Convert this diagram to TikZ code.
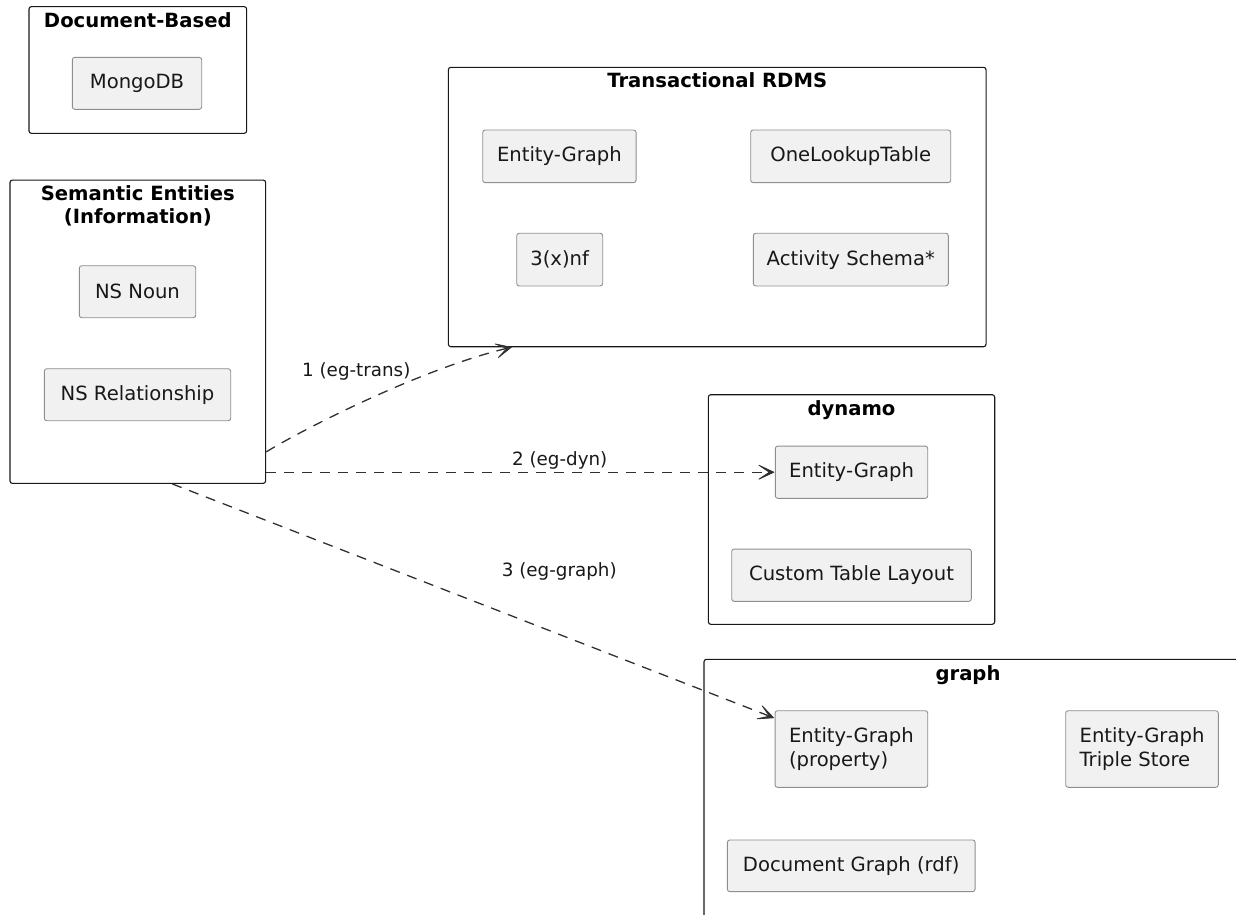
\documentclass[tikz,border=0pt]{standalone}
\usepackage{fontspec}
\setmainfont{DejaVu Sans}
\usetikzlibrary{calc}
\definecolor{itemfill}{HTML}{F1F1F1}
\definecolor{itemline}{HTML}{8E8E8E}
\definecolor{ink}{HTML}{181818}
\definecolor{wire}{HTML}{303030}
% open arrow head: #1 is the tip, #2 any point behind it on the line
\newcommand\openhead[2]{%
  \filldraw[wire, line width=0.8pt, line join=round]
    (#1) -- ($(#1)!15pt!(#2)!7pt!90:(#1)$) -- ($(#1)!4.5pt!(#2)$)
    -- ($(#1)!15pt!(#2)!7pt!-90:(#1)$) -- cycle;}
\begin{document}
\begin{tikzpicture}[x=1pt,y=-1pt,
  cluster/.style={draw=ink, line width=1.1pt, rounded corners=2.5pt, inner sep=0pt},
  ctitle/.style={font=\fontsize{19.6}{23}\selectfont\bfseries, anchor=base, inner sep=0pt, align=center, text=black},
  item/.style={draw=itemline, fill=itemfill, line width=0.9pt, rounded corners=2.5pt, inner sep=0pt,
    font=\fontsize{19.6}{24.6}\selectfont, text=ink},
  lbl/.style={font=\fontsize{18.3}{22}\selectfont, inner sep=0pt, anchor=base, text=ink},
  conn/.style={draw=wire, line width=1.3pt, dash pattern=on 10pt off 8pt, shorten >=4pt}]
\useasboundingbox (0,0) rectangle (1236,914);
\clip (0,0) rectangle (1236,914);

% Document-Based
\node[cluster, minimum width=217.7pt, minimum height=126.7pt] (docb) at (137.8,70) {};
\node[ctitle] (docb-t) at ($(docb.north)+(0,21)$) {Document-Based};
\node[item, minimum width=129.4pt, minimum height=52pt] (mongo) at (137,83.3) {MongoDB};

% Semantic Entities (two-line title: base sits on the last line)
\node[cluster, minimum width=255.7pt, minimum height=303.3pt] (sem) at (137.8,331.7) {};
\node[ctitle] (sem-t) at ($(sem.north)+(0,44)$) {Semantic Entities\\(Information)};
\node[item, minimum width=116.4pt, minimum height=52pt] (noun) at (137.5,291.7) {NS Noun};
\node[item, minimum width=186.4pt, minimum height=52pt] (rel) at (137.5,394.7) {NS Relationship};

% Transactional RDMS
\node[cluster, minimum width=537.7pt, minimum height=279.4pt] (trans) at (717.2,207) {};
\node[ctitle] (trans-t) at ($(trans.north)+(0,21)$) {Transactional RDMS};
\node[item, minimum width=153.3pt, minimum height=52.7pt] (teg) at (559.4,156.3) {Entity-Graph};
\node[item, minimum width=200pt, minimum height=52.7pt] (olt) at (850.7,156.3) {OneLookupTable};
\node[item, minimum width=86pt, minimum height=52.7pt] (nf) at (559.7,259.6) {3(x)nf};
\node[item, minimum width=195pt, minimum height=52.7pt] (act) at (850.8,259.6) {Activity Schema*};

% dynamo
\node[cluster, minimum width=286.4pt, minimum height=229.6pt] (dyn) at (851.5,509.5) {};
\node[ctitle] (dyn-t) at ($(dyn.north)+(0,21)$) {dynamo};
\node[item, minimum width=152.4pt, minimum height=52.3pt] (deg) at (851.5,472.2) {Entity-Graph};
\node[item, minimum width=239.6pt, minimum height=52.3pt] (ctl) at (851.5,575.2) {Custom Table Layout};

% graph (runs past the right and bottom edges)
\node[cluster, minimum width=546pt, minimum height=270pt] (graph) at (977,794.3) {};
\node[ctitle] (graph-t) at (968,680.3) {graph};
\node[item, minimum width=152.7pt, minimum height=76.6pt, align=left] (gprop) at (851.4,749) {Entity-Graph\\(property)};
\node[item, minimum width=152.6pt, minimum height=76.6pt, align=left] (gtri) at (1142,749) {Entity-Graph\\Triple Store};
\node[item, minimum width=247.7pt, minimum height=51.7pt] (gdoc) at (851.2,865.8) {Document Graph (rdf)};

% connectors: dashed body, then an open head at the end
\coordinate (s1) at ($(sem.south east)+(0,-32)$);
\coordinate (e1) at ($(trans.south west)+(63.5,0)$);
\coordinate (c1) at ($(e1)+(-92,22)$);
\draw[conn] (s1) .. controls ($(s1)+(34,-21)$) and (c1) .. (e1);
\openhead{e1}{c1}
\node[lbl] (l1) at (356.3,376) {1 (eg-trans)};

\coordinate (s2) at (sem.east |- deg.west);
\coordinate (e2) at ($(deg.west)+(-1,0)$);
\draw[conn] (s2) -- (e2);
\openhead{e2}{s2}
\node[lbl] (l2) at (559.7,465) {2 (eg-dyn)};

\coordinate (s3) at ($(sem.south)+(34.5,0)$);
\coordinate (e3) at ($(gprop.north west)+(-1,7.5)$);
\draw[conn] (s3) -- (e3);
\openhead{e3}{s3}
\node[lbl] (l3) at (559.3,576.7) {3 (eg-graph)};
\end{tikzpicture}
\end{document}
